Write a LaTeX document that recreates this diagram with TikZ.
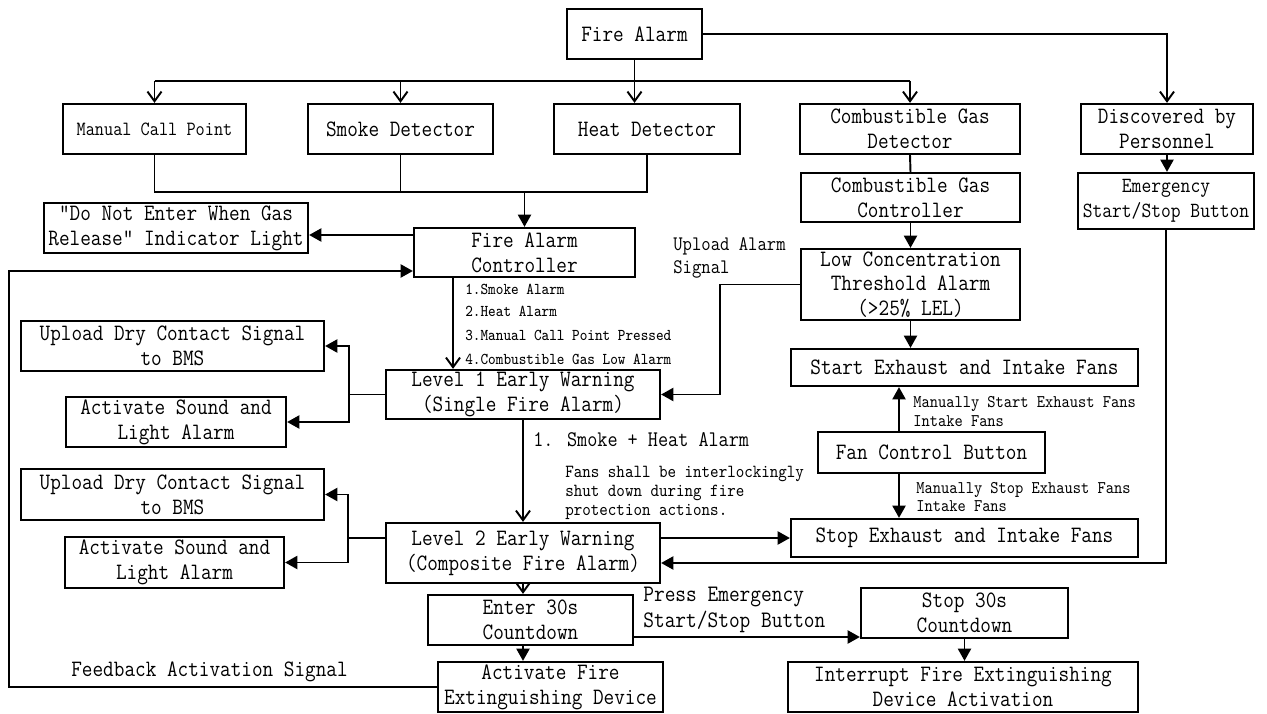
\documentclass[tikz,border=0pt]{standalone}
\usepackage{fontspec}
\usepackage{tikz}
\usetikzlibrary{arrows.meta, calc}
\newfontfamily\simfont[FakeStretch=0.88]{Latin Modern Mono}

\begin{document}
\begin{tikzpicture}[x=0.02cm, y=-0.02cm,
    blk/.style={draw, line width=1.3pt, align=center, inner sep=0pt,
                font=\simfont\fontsize{13.35}{14.2}\selectfont},
    ln/.style={line width=1.1pt},
    oarr/.style={ln, -{Straight Barb[length=5.5pt,width=8pt]}},
    farr/.style={ln, -{Triangle[length=7pt,width=7.5pt]}},
    note/.style={align=left, inner sep=0pt, font=\simfont\fontsize{13.35}{14.7}\selectfont},
    memo/.style={align=left, inner sep=0pt, font=\simfont\fontsize{10.15}{10.8}\selectfont},
    tag/.style={align=left, inner sep=0pt, font=\simfont\fontsize{9.4}{10}\selectfont}]
  \fill[white] (0,0) rectangle (1267,713);
  \useasboundingbox (0,0) rectangle (1267,713);

  %% Alarm sources
  \node[blk, minimum width=2.7cm, minimum height=1cm] (fa) at (634.5,34) {Fire Alarm};
  \node[blk, minimum width=3.66cm, minimum height=1cm, font=\simfont\fontsize{11.5}{14.2}\selectfont] (mcp) at (154.5,129) {Manual Call Point};
  \node[blk, minimum width=3.7cm, minimum height=1cm] (smk) at (400.5,129) {Smoke Detector};
  \node[blk, minimum width=3.72cm, minimum height=1cm] (heat) at (647,129) {Heat Detector};
  \node[blk, minimum width=4.4cm, minimum height=1cm] (cgd) at (910,129) {Combustible Gas\\Detector};
  \node[blk, minimum width=3.44cm, minimum height=1cm] (dbp) at (1167,129) {Discovered by\\Personnel};

  %% Controllers
  \node[blk, minimum width=4.38cm, minimum height=0.98cm] (cgc) at (910.5,197.5) {Combustible Gas\\Controller};
  \node[blk, minimum width=3.52cm, minimum height=1.12cm, font=\simfont\fontsize{12.3}{14.2}\selectfont] (esb) at (1166,201) {Emergency\\Start/Stop Button};
  \node[blk, minimum width=5.28cm, minimum height=1cm] (dne) at (176,228) {"Do Not Enter When Gas\\Release" Indicator Light};
  \node[blk, minimum width=4.42cm, minimum height=0.98cm] (fac) at (524.5,252.5) {Fire Alarm\\Controller};
  \node[blk, minimum width=4.38cm, minimum height=1.42cm, font=\simfont\fontsize{13.35}{13.9}\selectfont] (lca) at (910.5,284.5) {Low Concentration\\Threshold Alarm\\(>25\% LEL)};

  %% Level 1
  \node[blk, minimum width=6.06cm, minimum height=1cm] (ud1) at (172.5,346) {Upload Dry Contact Signal\\to BMS};
  \node[blk, minimum width=4.4cm, minimum height=1cm] (as1) at (176,422) {Activate Sound and\\Light Alarm};
  \node[blk, minimum width=5.48cm, minimum height=0.98cm] (lv1) at (523,394.5) {Level 1 Early Warning\\(Single Fire Alarm)};
  \node[blk, minimum width=6.94cm, minimum height=0.74cm] (sef) at (964.5,367.5) {Start Exhaust and Intake Fans};
  \node[blk, minimum width=4.54cm, minimum height=0.82cm] (fcb) at (931.5,452.5) {Fan Control Button};

  %% Level 2
  \node[blk, minimum width=6.06cm, minimum height=1.02cm] (ud2) at (172.5,494.5) {Upload Dry Contact Signal\\to BMS};
  \node[blk, minimum width=4.38cm, minimum height=1.02cm] (as2) at (174.5,562.5) {Activate Sound and\\Light Alarm};
  \node[blk, minimum width=5.48cm, minimum height=1.2cm] (lv2) at (523,553) {Level 2 Early Warning\\(Composite Fire Alarm)};
  \node[blk, minimum width=6.94cm, minimum height=0.76cm] (sxf) at (964.5,538) {Stop Exhaust and Intake Fans};

  %% Countdown and release
  \node[blk, minimum width=4.1cm, minimum height=1cm] (e30) at (530.5,620) {Enter 30s\\Countdown};
  \node[blk, minimum width=4.14cm, minimum height=1cm] (s30) at (964.5,613) {Stop 30s\\Countdown};
  \node[blk, minimum width=4.5cm, minimum height=1cm] (afd) at (550.5,687) {Activate Fire\\Extinguishing Device};
  \node[blk, minimum width=7cm, minimum height=1cm] (ifd) at (963,687) {Interrupt Fire Extinguishing\\Device Activation};

  %% Fire alarm distribution
  \coordinate (busL) at (154.5,81);
  \coordinate (busR) at (910,81);
  \draw[ln] (busL) -- (busR);
  \draw[oarr] (fa.south) -- (fa.south |- heat.north);
  \draw[oarr] (busL) -- (mcp.north);
  \draw[oarr] (smk.north |- busL) -- (smk.north);
  \draw[oarr] (busR) -- (cgd.north);
  \draw[oarr] (fa.east) -| (dbp.north);

  %% Detectors into controller
  \coordinate (mrg) at (524.5,192);
  \draw[ln] (mcp.south) |- (heat.south |- mrg) -- (heat.south);
  \draw[ln] (smk.south) -- (smk.south |- mrg);
  \draw[farr] (mrg) -- (fac.north);
  \draw[ln] (cgd.south) -- (cgc.north);
  \draw[farr] (cgc.south) -- (lca.north);
  \draw[farr] (dbp.south) -- (dbp.south |- esb.north);
  \coordinate (facw) at ([yshift=3.5mm]fac.west);
  \draw[farr] (facw) -- (facw -| dne.east);

  %% Feedback loop
  \coordinate (fbk) at ([yshift=-3.7mm]fac.west);
  \coordinate (fbx) at (9,0);
  \draw[farr] (afd.west) -- (afd.west -| fbx) |- (fbk);
  \node[note, anchor=west] (fbl) at (71,672) {Feedback Activation Signal};

  %% Controller to level 1
  \coordinate (c1) at ([xshift=-1.43cm]fac.south);
  \draw[oarr] (c1) -- (c1 |- lv1.north);
  \node[tag, anchor=west] (t1) at (465,289) {1.Smoke Alarm};
  \node[tag, anchor=west] (t2) at (465,311) {2.Heat Alarm};
  \node[tag, anchor=west] (t3) at (465,335) {3.Manual Call Point Pressed};
  \node[tag, anchor=west] (t4) at (465,359) {4.Combustible Gas Low Alarm};
  \coordinate (j1) at ([xshift=-0.72cm]lv1.west);
  \draw[ln] (lv1.west) -- (j1);
  \draw[farr] (j1) |- (ud1.east);
  \draw[farr] (j1) |- (as1.east);

  %% Gas branch
  \coordinate (j3) at ([xshift=-1.6cm]lca.west);
  \draw[farr] (lca.west) -- (j3) |- (lv1.east);
  \node[note, anchor=west, font=\simfont\fontsize{11.75}{13}\selectfont] (ual) at (673,257.5) {Upload Alarm\\Signal};
  \draw[farr] (lca.south) -- (lca.south |- sef.north);
  \coordinate (f1) at ([xshift=-0.65cm]fcb.north);
  \draw[farr] (f1) -- (f1 |- sef.south);
  \node[memo, anchor=west] (mst) at (913,411.5) {Manually Start Exhaust Fans\\Intake Fans};
  \coordinate (f2) at ([xshift=-0.65cm]fcb.south);
  \draw[farr] (f2) -- (f2 |- sxf.north);
  \node[memo, anchor=west] (msp) at (916,497) {Manually Stop Exhaust Fans\\Intake Fans};

  %% Level 1 to level 2
  \draw[oarr] (lv1.south) -- (lv1.south |- lv2.north);
  \node[note, anchor=west, font=\simfont\fontsize{12.7}{14}\selectfont] (shl) at (533,440) {1. Smoke + Heat Alarm};
  \node[memo, anchor=west, font=\simfont\fontsize{10.5}{10.8}\selectfont] (fil) at (565,493) {Fans shall be interlockingly\\shut down during fire\\protection actions.};
  \draw[farr] (lv2.east |- sxf.west) -- (sxf.west);
  \coordinate (l2e) at ([yshift=-0.2cm]lv2.east);
  \draw[farr] (esb.south) |- (l2e);
  \coordinate (j2) at ([xshift=-0.74cm, yshift=0.3cm]lv2.west);
  \draw[ln] (lv2.west |- j2) -- (j2);
  \draw[farr] (j2) |- (ud2.east);
  \draw[farr] (j2) |- (as2.east);

  %% Countdown
  \draw[oarr] (lv2.south) -- (lv2.south |- e30.north);
  \draw[farr] (lv2.south |- e30.south) -- (lv2.south |- afd.north);
  \coordinate (e3e) at ([yshift=-0.34cm]e30.east);
  \draw[farr] (e3e) -- (e3e -| s30.west);
  \node[note, anchor=west, font=\simfont\fontsize{13.45}{14.7}\selectfont] (pes) at (643,610) {Press Emergency\\Start/Stop Button};
  \draw[farr] (s30.south) -- (s30.south |- ifd.north);
\end{tikzpicture}
\end{document}
